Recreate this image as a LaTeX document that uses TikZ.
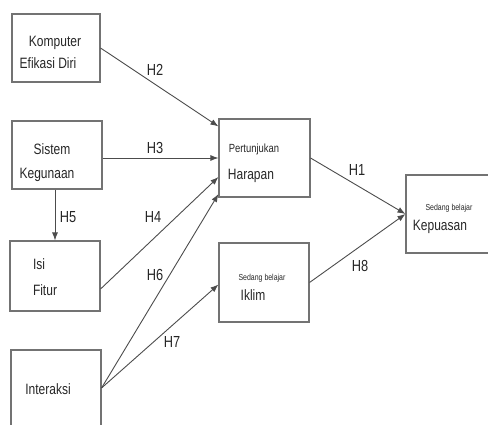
\documentclass[tikz,border=0pt]{standalone}
\usepackage{fontspec}
\setmainfont{Liberation Sans}[FakeStretch=0.8]
\usetikzlibrary{arrows.meta}

\begin{document}
\begin{tikzpicture}[x=1pt, y=-1pt,
    box/.style={draw=black!55, line width=1.1pt, inner sep=0pt},
    lbl/.style={anchor=base, text=black!85, inner sep=0pt, font=\fontsize{15}{17}\selectfont},
    small/.style={lbl, font=\fontsize{11.8}{13}\selectfont},
    tiny/.style={lbl, font=\fontsize{8.7}{9}\selectfont},
    hyp/.style={lbl, font=\fontsize{16}{18}\selectfont},
    link/.style={draw=black!70, line width=0.9pt, -{Latex[length=8pt,width=6pt]}}]
    \clip (0,0) rectangle (488,425);

    % --- Boxes ---
    \node[box, minimum width=88pt, minimum height=68pt] (kom) at (56,48) {};
    \node[box, minimum width=90pt, minimum height=68pt] (sis) at (57,155) {};
    \node[box, minimum width=90pt, minimum height=70pt] (isi) at (55,276) {};
    \node[box, minimum width=90pt, minimum height=80pt] (itr) at (56,390) {};
    \node[box, minimum width=91pt, minimum height=78pt] (pert) at (264.5,158) {};
    \node[box, minimum width=90pt, minimum height=79pt] (ikl) at (264,282.5) {};
    \node[box, minimum width=86pt, minimum height=78pt] (kep) at (449,214) {};

    % --- Box texts ---
    \node[lbl] (kom-a) at (55,47) {Komputer};
    \node[lbl] (kom-b) at (48,69) {Efikasi Diri};
    \node[lbl] (sis-a) at (52,155) {Sistem};
    \node[lbl] (sis-b) at (47,179) {Kegunaan};
    \node[lbl] (isi-a) at (39,270) {Isi};
    \node[lbl] (isi-b) at (45,295) {Fitur};
    \node[lbl] (itr-a) at (48,394) {Interaksi};
    \node[small] (pert-a) at (254,153) {Pertunjukan};
    \node[lbl] (pert-b) at (251,180) {Harapan};
    \node[tiny] (ikl-a) at (262,281) {Sedang belajar};
    \node[lbl] (ikl-b) at (253,301) {Iklim};
    \node[tiny] (kep-a) at (449,211) {Sedang belajar};
    \node[lbl] (kep-b) at (440,231) {Kepuasan};

    % --- Hypotheses ---
    \draw[link] (kom.east) -- ([yshift=-8pt]pert.north west);
    \draw[link] ([yshift=-3pt]sis.east) -- (pert.west);
    \draw[link] (isi.north |- sis.south) -- (isi.north);
    \draw[link] ([yshift=-13pt]isi.east) -- ([yshift=-19pt]pert.west);
    \draw[link] ([yshift=2pt]itr.east) -- ([yshift=-36pt]pert.west);
    \draw[link] ([yshift=2pt]itr.east) -- ([yshift=-2pt]ikl.west);
    \draw[link] (pert.east) -- (kep.west);
    \draw[link] (ikl.east) -- (kep.west);

    \node[hyp] (h2) at (155,76) {H2};
    \node[hyp] (h3) at (155,154) {H3};
    \node[hyp] (h5) at (68,223) {H5};
    \node[hyp] (h4) at (153,223) {H4};
    \node[hyp] (h6) at (155,281) {H6};
    \node[hyp] (h7) at (172,348) {H7};
    \node[hyp] (h1) at (357,176) {H1};
    \node[hyp] (h8) at (360,272) {H8};
\end{tikzpicture}
\end{document}
